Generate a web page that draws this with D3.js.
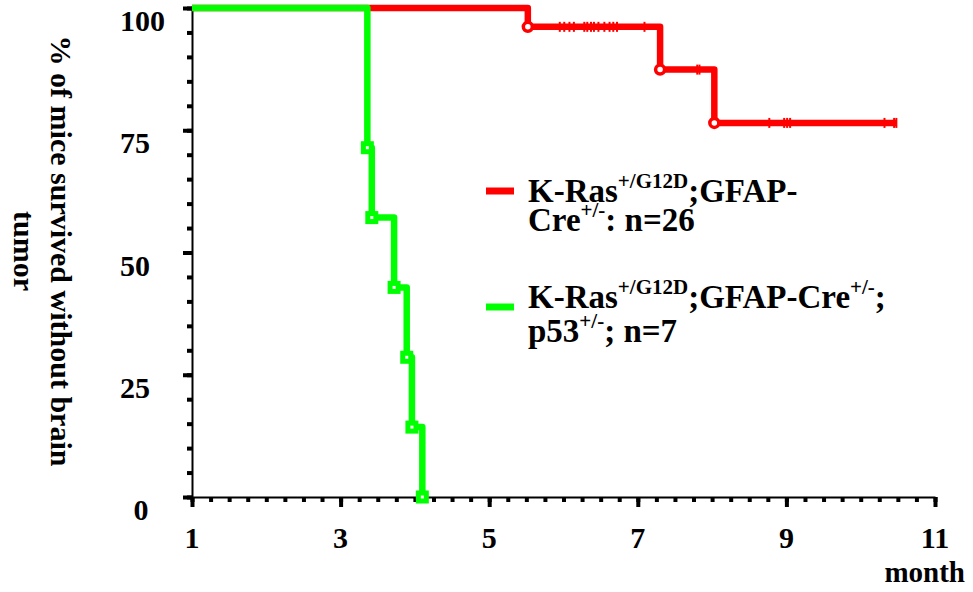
<!DOCTYPE html>
<html>
<head>
<meta charset="utf-8">
<script src="https://cdn.jsdelivr.net/npm/d3@7"></script>
<style>
  body { margin: 0; background: #fff; }
  text { font-family: "Liberation Serif", "Times New Roman", serif; font-weight: bold; fill: #000; }
</style>
</head>
<body>
<svg id="chart" width="973" height="592"></svg>
<script>
// survival steps (month, % surviving)
var redSteps = [[1, 100], [5.52, 96.15], [7.30, 87.4], [8.03, 76.5], [10.48, 76.5]];
var greenSteps = [[1, 100], [3.36, 71.43], [3.42, 57.14], [3.72, 42.86], [3.89, 28.57], [3.96, 14.29], [4.10, 0]];
// censored mice on the red curve (month, level)
var redCensored = [
  [5.95, 96.15], [6.01, 96.15], [6.08, 96.15], [6.14, 96.15], [6.28, 96.15], [6.32, 96.15], [6.37, 96.15],
  [6.41, 96.15], [6.47, 96.15], [6.55, 96.15], [6.62, 96.15], [6.67, 96.15], [6.72, 96.15], [7.09, 96.15],
  [7.80, 87.4], [7.83, 87.4],
  [8.77, 76.5], [8.97, 76.5], [9.01, 76.5], [9.05, 76.5], [10.32, 76.5], [10.45, 76.5], [10.48, 76.5]
];
var xMajor = [1, 3, 5, 7, 9, 11];
var yMajor = [0, 25, 50, 75, 100];
var legendItems = [
  { color: "#ff0000", lines: [["K-Ras", "+/G12D", ";GFAP-"], ["Cre", "+/-", ": n=26"]] },
  { color: "#00ff00", lines: [["K-Ras", "+/G12D", ";GFAP-Cre", "+/-", ";"], ["p53", "+/-", "; n=7"]] }
];

var svg = d3.select("#chart");
var x = d3.scaleLinear().domain([1, 11]).range([192, 935]);
var y = d3.scaleLinear().domain([0, 100]).range([497, 8]);

var xMinor = d3.range(1, 11.01, 0.25);
var yMinor = d3.range(0, 100.01, 5);

// y axis
svg.append("g").attr("transform", "translate(" + x(1) + ",0)")
  .call(d3.axisLeft(y).tickValues(yMinor).tickSize(5).tickSizeOuter(0).tickFormat(""))
  .call(function (g) { g.select(".domain").attr("stroke-width", 2); g.selectAll(".tick line").attr("stroke-width", 4); });
svg.append("g").attr("transform", "translate(" + x(1) + ",0)")
  .call(d3.axisLeft(y).tickValues(yMajor).tickSize(9).tickSizeOuter(0).tickFormat(""))
  .call(function (g) { g.select(".domain").remove(); g.selectAll(".tick line").attr("stroke-width", 4); });

// x axis
svg.append("g").attr("transform", "translate(0," + y(0) + ")")
  .call(d3.axisBottom(x).tickValues(xMinor).tickSize(5).tickSizeOuter(0).tickFormat(""))
  .call(function (g) { g.select(".domain").attr("stroke-width", 2); g.selectAll(".tick line").attr("stroke-width", 4); });
svg.append("g").attr("transform", "translate(0," + y(0) + ")")
  .call(d3.axisBottom(x).tickValues(xMajor).tickSize(10).tickSizeOuter(0).tickFormat(""))
  .call(function (g) { g.select(".domain").remove(); g.selectAll(".tick line").attr("stroke-width", 4); });

// y tick labels (hang just below each tick)
svg.selectAll(".ylab").data(yMajor).enter().append("text")
  .attr("class", "ylab")
  .attr("x", function (d) { return d === 0 ? 141 : 120; })
  .attr("y", function (d) { return y(d) + 23; })
  .attr("text-anchor", function (d) { return d === 0 ? "middle" : "start"; })
  .style("font-size", "30px")
  .text(function (d) { return d; });

// x tick labels
svg.selectAll(".xlab").data(xMajor).enter().append("text")
  .attr("class", "xlab")
  .attr("x", function (d) { return x(d); })
  .attr("y", 548)
  .attr("text-anchor", "middle")
  .style("font-size", "30px")
  .text(function (d) { return d; });

svg.append("text").attr("x", 965).attr("y", 582).attr("text-anchor", "end")
  .style("font-size", "29px").text("month");

// y title, two lines, reading downward
var yt = svg.append("g").attr("transform", "translate(51,251) rotate(90)");
yt.append("text").attr("text-anchor", "middle").style("font-size", "30px").text("% of mice survived without brain");
yt.append("text").attr("y", 37.5).attr("text-anchor", "middle").style("font-size", "30px").text("tumor");

// curves
var step = d3.line().x(function (d) { return x(d[0]); }).y(function (d) { return y(d[1]); }).curve(d3.curveStepAfter);

svg.append("path").datum(redSteps).attr("d", step)
  .attr("fill", "none").attr("stroke", "#ff0000").attr("stroke-width", 6.5).attr("stroke-linejoin", "round");

svg.selectAll(".cens").data(redCensored).enter().append("line")
  .attr("class", "cens")
  .attr("x1", function (d) { return x(d[0]); }).attr("x2", function (d) { return x(d[0]); })
  .attr("y1", function (d) { return y(d[1]) - 5; }).attr("y2", function (d) { return y(d[1]) + 5; })
  .attr("stroke", "#ff0000").attr("stroke-width", 2);

svg.selectAll(".rmark").data(redSteps.slice(1, -1)).enter().append("circle")
  .attr("class", "rmark")
  .attr("cx", function (d) { return x(d[0]); }).attr("cy", function (d) { return y(d[1]); })
  .attr("r", 4.5).attr("fill", "#fff").attr("stroke", "#ff0000").attr("stroke-width", 3.5);

svg.append("path").datum(greenSteps).attr("d", step)
  .attr("fill", "none").attr("stroke", "#00ff00").attr("stroke-width", 6.5).attr("stroke-linejoin", "round");

svg.selectAll(".gmark").data(greenSteps.slice(1)).enter().append("rect")
  .attr("class", "gmark")
  .attr("x", function (d) { return x(d[0]) - 4; }).attr("y", function (d) { return y(d[1]) - 4; })
  .attr("width", 8).attr("height", 8)
  .attr("fill", "#fff").attr("stroke", "#00ff00").attr("stroke-width", 5);

// legend
var legendTop = [191, 307];
var lineBase = [[202, 231], [308, 342]];
legendItems.forEach(function (item, i) {
  svg.append("line").attr("x1", 486).attr("x2", 514)
    .attr("y1", legendTop[i]).attr("y2", legendTop[i])
    .attr("stroke", item.color).attr("stroke-width", 7);
  item.lines.forEach(function (parts, j) {
    var t = svg.append("text").attr("x", 528).attr("y", lineBase[i][j]).style("font-size", "33px");
    parts.forEach(function (p, k) {
      var sup = k % 2 === 1;
      t.append("tspan")
        .attr("dy", sup ? -14 : (k > 0 ? 14 : 0))
        .style("font-size", sup ? "21px" : "33px")
        .text(p);
    });
  });
});
</script>
</body>
</html>
